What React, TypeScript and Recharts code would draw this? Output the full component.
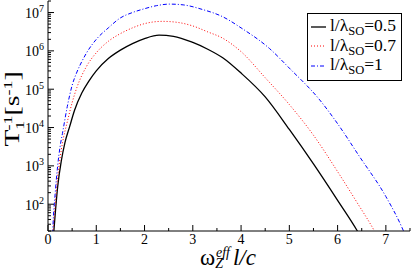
import { LineChart, Line, XAxis, YAxis, Legend } from 'recharts'

const SERIF = 'Liberation Serif, Times New Roman, serif'

const lambdaLabels = ['0.5', '0.7', '1']
const lineColors = ['#000000', '#ff0000', '#0000ff']
const lineDashes = [undefined, '1 2', '4 2 1 2']

// x = ω_Z^eff l/c, y given as log10(T1^-1 / s^-1)
const blackX = [0.11, 0.124, 0.15, 0.2, 0.28, 0.35, 0.45, 0.55, 0.7, 0.85, 1.0, 1.25, 1.5, 1.75, 2.0, 2.3, 2.6, 3.0, 3.3, 3.62, 4.0, 4.5, 5.0, 5.5, 6.0, 6.4, 6.5]
const blackLog = [1.1, 1.34, 1.75, 2.45, 3.16, 3.6, 4.03, 4.45, 4.9, 5.22, 5.48, 5.8, 6.02, 6.19, 6.32, 6.41, 6.38, 6.22, 6.05, 5.82, 5.42, 4.8, 3.95, 3.05, 2.1, 1.32, 1.1]

const redX = [0.1, 0.11, 0.15, 0.2, 0.25, 0.3, 0.4, 0.5, 0.6, 0.8, 1.0, 1.25, 1.5, 1.75, 2.0, 2.37, 2.7, 3.0, 3.3, 3.62, 4.0, 4.5, 5.0, 5.5, 6.0, 6.4, 6.75, 6.85]
const redLog = [1.1, 1.35, 2.0, 2.7, 3.2, 3.6, 4.15, 4.65, 5.05, 5.6, 5.95, 6.25, 6.45, 6.6, 6.71, 6.77, 6.74, 6.65, 6.5, 6.33, 5.98, 5.3, 4.6, 3.8, 2.85, 2.05, 1.33, 1.1]

const blueX = [0.09, 0.1, 0.15, 0.2, 0.25, 0.3, 0.4, 0.5, 0.6, 0.7, 0.8, 1.0, 1.25, 1.5, 1.75, 2.0, 2.25, 2.52, 2.8, 3.2, 3.62, 4.0, 4.59, 5.0, 5.63, 6.0, 6.45, 7.0, 7.32, 7.4]
const blueLog = [1.0, 1.35, 2.3, 3.0, 3.5, 3.85, 4.55, 5.1, 5.45, 5.72, 5.95, 6.3, 6.6, 6.86, 7.0, 7.1, 7.18, 7.22, 7.2, 7.08, 6.89, 6.6, 6.06, 5.55, 4.72, 4.1, 3.25, 2.2, 1.43, 1.2]

const xTicks = [0, 0.5, 1, 1.5, 2, 2.5, 3, 3.5, 4, 4.5, 5, 5.5, 6, 6.5, 7, 7.5]
const yMajor = [1e2, 1e3, 1e4, 1e5, 1e6, 1e7]
const yDomain = [20, 2e7]

// minor log ticks 2..9 per decade inside the domain
const yTicks: number[] = []
for (const d of [10, 100, 1e3, 1e4, 1e5, 1e6, 1e7]) {
  for (let m = 1; m < 10; m++) {
    const v = d * m
    if (v >= yDomain[0] && v <= yDomain[1]) yTicks.push(v)
  }
}

const toRows = (xs: number[], logs: number[]) => xs.map((x, i) => ({ x, y: Math.pow(10, logs[i]) }))
const seriesData = [toRows(blackX, blackLog), toRows(redX, redLog), toRows(blueX, blueLog)]

const isMajorY = (v: number) => yMajor.includes(v)

const BottomTick = ({ x, y, payload }: any) => {
  const major = Number.isInteger(payload.value)
  return (
    <g>
      <line x1={x} x2={x} y1={y} y2={y - (major ? 6 : 3)} stroke="#000" />
      {major && (
        <text x={x} y={y + 13} textAnchor="middle" fontSize={14} fontFamily={SERIF} fill="#000">
          {payload.value}
        </text>
      )}
    </g>
  )
}

const TopTick = ({ x, y, payload }: any) => (
  <line x1={x} x2={x} y1={y} y2={y + (Number.isInteger(payload.value) ? 6 : 3)} stroke="#000" />
)

const LeftTick = ({ x, y, payload }: any) => {
  const major = isMajorY(payload.value)
  return (
    <g>
      <line x1={x} x2={x + (major ? 6 : 3)} y1={y} y2={y} stroke="#000" />
      {major && (
        <text x={x - 4} y={y + 5.5} textAnchor="end" fontSize={14} fontFamily={SERIF} fill="#000">
          10<tspan fontSize={10} dy={-6}>{Math.round(Math.log10(payload.value))}</tspan>
        </text>
      )}
    </g>
  )
}

const RightTick = ({ x, y, payload }: any) => (
  <line x1={x} x2={x - (isMajorY(payload.value) ? 6 : 3)} y1={y} y2={y} stroke="#000" />
)

// the original title is drawn stretched along its reading direction
const YTitle = ({ viewBox }: any) => {
  const cx = viewBox.x + 18.5
  const cy = viewBox.y + viewBox.height / 2 - 7
  return (
    <g transform={`translate(${cx}, ${cy}) rotate(-90) scale(1.38, 1)`}>
      <text x={0} y={0} textAnchor="middle" fontSize={20} fontFamily={SERIF} fill="#000">
        T<tspan fontSize={13} dy={5}>1</tspan>
        <tspan fontSize={13} dx={-7} dy={-12}>-1</tspan>
        <tspan dy={7}>[s</tspan>
        <tspan fontSize={13} dy={-7}>-1</tspan>
        <tspan dy={7}>]</tspan>
      </text>
    </g>
  )
}

const XTitle = ({ viewBox }: any) => {
  const x0 = viewBox.x + viewBox.width / 2 - 29
  const by = viewBox.y + 34
  return (
    <text x={x0} y={by} fontSize={23} fontFamily={SERIF} fill="#000">
      ω<tspan fontSize={14} fontStyle="italic" dy={3}>Z</tspan>
      <tspan fontSize={14} fontStyle="italic" dx={-7} dy={-11}>eff</tspan>
      <tspan fontStyle="italic" dx={3} dy={8}>l/c</tspan>
    </text>
  )
}

const LegendBox = () => (
  <div
    style={{
      border: '1px solid #000',
      background: '#fff',
      padding: '3px 5px 4px 2px',
      fontFamily: SERIF,
      fontSize: 17.5,
      lineHeight: '17.5px',
      color: '#000',
    }}
  >
    {lambdaLabels.map((lab, i) => (
      <div key={lab} style={{ display: 'flex', alignItems: 'center', whiteSpace: 'nowrap' }}>
        <svg width={18} height={10} style={{ marginRight: 2 }}>
          <line x1={1} x2={16} y1={5} y2={5} stroke={lineColors[i]} strokeWidth={i === 0 ? 1.3 : 1} strokeDasharray={lineDashes[i]} />
        </svg>
        <span>
          l/λ<span style={{ fontSize: 12.5, position: 'relative', top: 4 }}>SO</span>={lab}
        </span>
      </div>
    ))}
  </div>
)

export default function App() {
  return (
    <div style={{ position: 'absolute', left: 0, top: 0, background: '#fff' }}>
      <LineChart width={411} height={271} margin={{ top: 1, right: 1, left: 0, bottom: 0 }}>
        <XAxis xAxisId="b" type="number" dataKey="x" domain={[0, 7.5]} allowDataOverflow ticks={xTicks} interval={0}
          tick={BottomTick} tickSize={0} tickMargin={0} height={40} stroke="#000" label={<XTitle />} />
        <XAxis xAxisId="t" orientation="top" type="number" dataKey="x" domain={[0, 7.5]} allowDataOverflow ticks={xTicks}
          interval={0} tick={TopTick} tickSize={0} tickMargin={0} height={0} stroke="#000" />
        <YAxis yAxisId="l" type="number" scale="log" domain={yDomain} allowDataOverflow ticks={yTicks} interval={0}
          tick={LeftTick} tickSize={0} tickMargin={0} width={48} stroke="#000" label={<YTitle />} />
        <YAxis yAxisId="r" orientation="right" type="number" scale="log" domain={yDomain} allowDataOverflow ticks={yTicks}
          interval={0} tick={RightTick} tickSize={0} tickMargin={0} width={0} stroke="#000" />
        {seriesData.map((rows, i) => (
          <Line key={lambdaLabels[i]} data={rows} xAxisId="b" yAxisId="l" dataKey="y" type="monotone"
            stroke={lineColors[i]} strokeWidth={i === 0 ? 1.3 : 1} strokeDasharray={lineDashes[i]}
            dot={false} isAnimationActive={false} />
        ))}
        <Legend layout="vertical" align="center" verticalAlign="middle" content={<LegendBox />}
          wrapperStyle={{ left: 307, top: 13, width: 'auto', height: 'auto' }} />
      </LineChart>
    </div>
  )
}
